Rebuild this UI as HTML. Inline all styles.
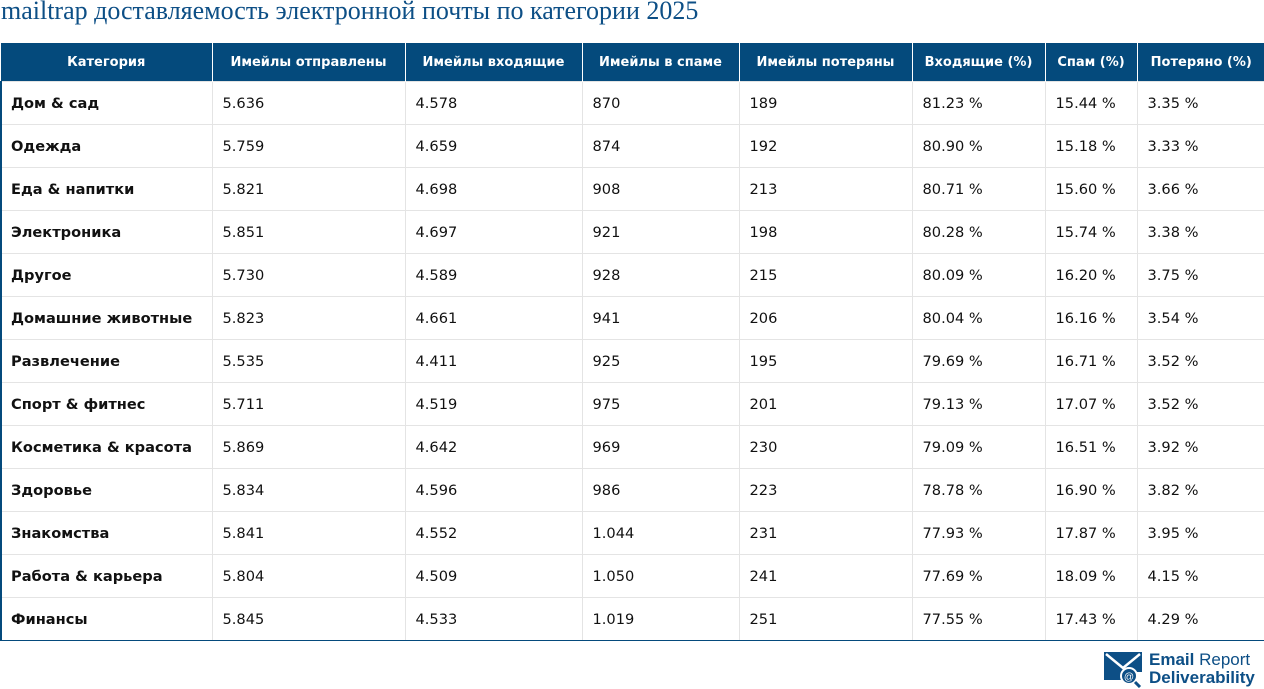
<!DOCTYPE html>
<html><head><meta charset="utf-8"><style>
body{margin:0;width:1264px;height:689px;background:#fff;position:relative;overflow:hidden;font-family:"DejaVu Sans","Liberation Sans",sans-serif}
h1{position:absolute;left:1px;top:-6px;margin:0;font:26px "Liberation Serif","DejaVu Serif",serif;color:#0d4f86;font-weight:normal;white-space:nowrap;line-height:34px}
table{position:absolute;left:0;top:43px;width:1264px;border-collapse:collapse;table-layout:fixed;font-size:14.6px;color:#111}
th{background:#044a7c;color:#fff;height:38px;font-size:13px;font-weight:bold;border-left:1px solid #fff;padding:0;text-align:center;white-space:nowrap}
th:first-child{border-left:none}
td{height:42px;border-top:1px solid #e4e4e4;border-left:1px solid #e4e4e4;padding:0 0 0 10px;white-space:nowrap}
td:first-child{font-weight:bold;border-left:2px solid #044a7c;padding-left:9px}
td:last-child{border-right:1px solid #044a7c}
tr:last-child td{border-bottom:1px solid #044a7c}
.logo{position:absolute;left:1104px;top:650px;width:160px;height:38px}
</style></head><body>
<h1>mailtrap доставляемость электронной почты по категории 2025</h1>
<table>
<colgroup><col style="width:211px"><col style="width:193px"><col style="width:177px"><col style="width:157px"><col style="width:173px"><col style="width:133px"><col style="width:92px"><col style="width:128px"></colgroup>
<thead><tr>
<th>Категория</th>
<th>Имейлы отправлены</th>
<th>Имейлы входящие</th>
<th>Имейлы в спаме</th>
<th>Имейлы потеряны</th>
<th>Входящие (%)</th>
<th>Спам (%)</th>
<th>Потеряно (%)</th>
</tr></thead>
<tbody id="tb"></tbody>
</table>
<svg class="logo" viewBox="0 0 160 38">
<path d="M0 2 L38 2 L38 22 L28 22 L19 30 L0 30 Z" fill="#0d4f86"/>
<path d="M2 4 L19 18 L36 4" stroke="#fff" stroke-width="2.5" fill="none"/>
<circle cx="25" cy="26" r="8" fill="#0d4f86" stroke="#fff" stroke-width="2"/>
<text x="25" y="30" font-size="10" fill="#fff" text-anchor="middle" font-family="Liberation Sans">@</text>
<line x1="31" y1="32" x2="36" y2="37" stroke="#0d4f86" stroke-width="3"/>
<text x="45" y="15" font-size="17" fill="#0d4f86" font-family="Liberation Sans"><tspan font-weight="bold">Email</tspan> Report</text>
<text x="45" y="33" font-size="17" fill="#0d4f86" font-weight="bold" font-family="Liberation Sans">Deliverability</text>
</svg>
<script>
const categories=["Дом & сад","Одежда","Еда & напитки","Электроника","Другое","Домашние животные","Развлечение","Спорт & фитнес","Косметика & красота","Здоровье","Знакомства","Работа & карьера","Финансы"];
const sent=["5.636","5.759","5.821","5.851","5.730","5.823","5.535","5.711","5.869","5.834","5.841","5.804","5.845"];
const inbox=["4.578","4.659","4.698","4.697","4.589","4.661","4.411","4.519","4.642","4.596","4.552","4.509","4.533"];
const spam=["870","874","908","921","928","941","925","975","969","986","1.044","1.050","1.019"];
const lost=["189","192","213","198","215","206","195","201","230","223","231","241","251"];
const inboxPct=["81.23 %","80.90 %","80.71 %","80.28 %","80.09 %","80.04 %","79.69 %","79.13 %","79.09 %","78.78 %","77.93 %","77.69 %","77.55 %"];
const spamPct=["15.44 %","15.18 %","15.60 %","15.74 %","16.20 %","16.16 %","16.71 %","17.07 %","16.51 %","16.90 %","17.87 %","18.09 %","17.43 %"];
const lostPct=["3.35 %","3.33 %","3.66 %","3.38 %","3.75 %","3.54 %","3.52 %","3.52 %","3.92 %","3.82 %","3.95 %","4.15 %","4.29 %"];
const tb=document.getElementById('tb');
const cols=[categories,sent,inbox,spam,lost,inboxPct,spamPct,lostPct];
const names=['category','sent','inbox','spam','lost','inbox-pct','spam-pct','lost-pct'];
categories.forEach((c,i)=>{
  const tr=document.createElement('tr');
  
  
  cols.forEach((arr,j)=>{
    const td=document.createElement('td');
    td.textContent=arr[i];
    
    
    tr.appendChild(td);
  });
  tb.appendChild(tr);
});
</script>
</body></html>
